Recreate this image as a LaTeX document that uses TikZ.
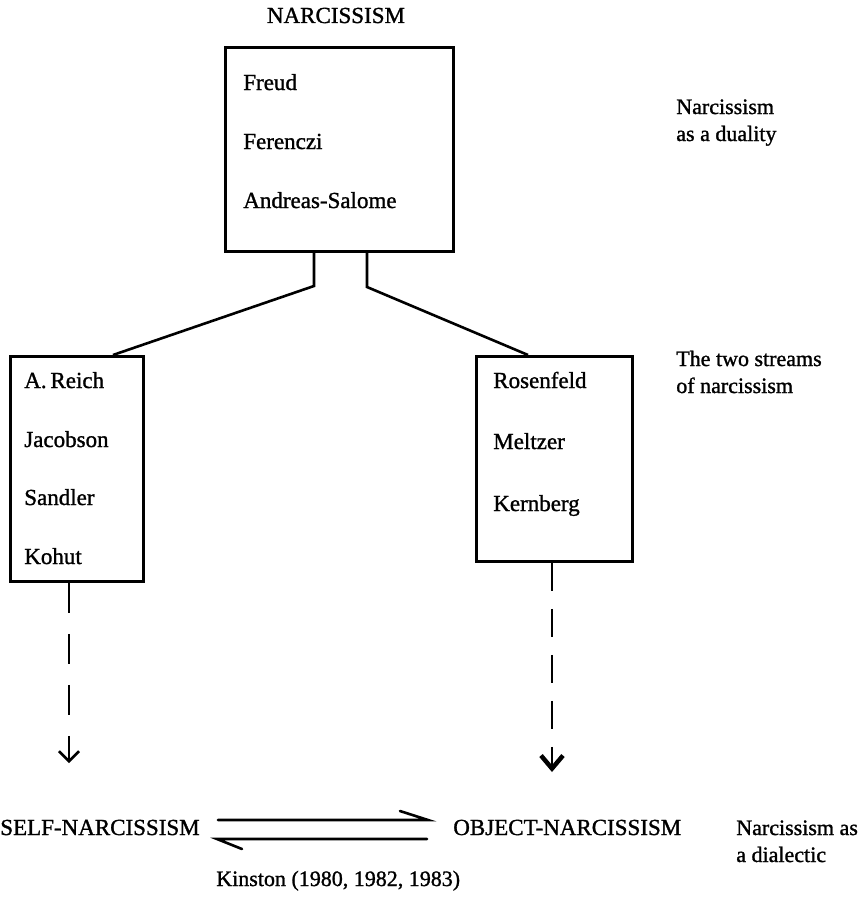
\documentclass[tikz,border=0pt]{standalone}
\usepackage{fontspec}
\setmainfont{Liberation Serif}
\newfontfamily\scanfont{Liberation Serif}[FakeBold=1.2]
\usetikzlibrary{arrows.meta}
\begin{document}
\begin{tikzpicture}[x=1pt,y=-1pt,line width=2.6pt,line cap=round,
  lbl/.style={anchor=base west,inner sep=0pt,font=\scanfont\fontsize{23}{27}\selectfont},
  side/.style={anchor=base west,inner sep=0pt,font=\scanfont\fontsize{22}{27}\selectfont},
  hdr/.style={anchor=base,inner sep=0pt,font=\scanfont\fontsize{23}{27}\selectfont},
  box/.style={draw,line width=2.8pt,inner sep=0pt,anchor=north west},
  openhead/.style={-{Straight Barb[length=10pt,width=20pt,line width=2.6pt]}},
  boldhead/.style={-{Straight Barb[length=13pt,width=22pt,line width=4.5pt]}},
  dashA/.style={dash pattern=on 30pt off 21pt},
  dashB/.style={dash pattern=on 28pt off 18pt}
]
\useasboundingbox (0,0) rectangle (858,899);

% title
\node[hdr] (title) at (336,23) {NARCISSISM};

% top box
\node[box,minimum width=228pt,minimum height=204pt] (topbox) at (224,46) {};
\node[lbl] (freud) at (242,90) {Freud};
\node[lbl] (ferenczi) at (242,149) {Ferenczi};
\node[lbl] (andreas) at (242,208) {Andreas-Salome};

% side labels
\node[side] (d1) at (675,114) {Narcissism};
\node[side] (d2) at (675,141) {as a duality};
\node[side] (s1) at (675,366) {The two streams};
\node[side] (s2) at (675,393) {of narcissism};

% left box
\node[box,minimum width=133pt,minimum height=225pt] (lbox) at (9,355) {};
\node[lbl] (reich) at (23,388) {A.\,Reich};
\node[lbl] (jacobson) at (23,447) {Jacobson};
\node[lbl] (sandler) at (23,505) {Sandler};
\node[lbl] (kohut) at (23,564) {Kohut};

% right box
\node[box,minimum width=156pt,minimum height=205pt] (rbox) at (475,355) {};
\node[lbl] (rosenfeld) at (492,388) {Rosenfeld};
\node[lbl] (meltzer) at (492,449) {Meltzer};
\node[lbl] (kernberg) at (492,511) {Kernberg};

% connectors from top box
\coordinate (ls) at (314,286);
\coordinate (rs) at (367,287);
\coordinate (lj) at (113,0);
\coordinate (rj) at (528,0);
\draw[line cap=butt] (topbox.south -| ls) -- (ls) -- (lbox.north -| lj);
\draw[line cap=butt] (topbox.south -| rs) -- (rs) -- (rbox.north -| rj);

% dashed arrows
\coordinate (ld) at (69,0);
\coordinate (rd) at (552,0);
\coordinate (ltip) at (69,763);
\coordinate (rtip) at (552,772);
\draw[dashA,openhead,line cap=butt] (lbox.south -| ld) -- (ltip);
\draw[dashB,boldhead,line cap=butt] (rbox.south -| rd) -- (rtip);

% bottom
\node[hdr,anchor=base east] (self) at (201,835) {SELF-NARCISSISM};
\node[hdr,anchor=base west] (object) at (452,835) {OBJECT-NARCISSISM};
\node[side] (dl1) at (735,835) {Narcissism as};
\node[side] (dl2) at (735,862) {a dialectic};
\node[side] (kinston) at (215,886) {Kinston (1980, 1982, 1983)};

% harpoons
\coordinate (h1s) at (218,820);
\coordinate (h1e) at (428,820);
\coordinate (h2s) at (427,839);
\coordinate (h2e) at (217,839);
\draw (h1s) -- (h1e) -- ++(-28,-9);
\draw (h2s) -- (h2e) -- ++(25,10);
\end{tikzpicture}
\end{document}
